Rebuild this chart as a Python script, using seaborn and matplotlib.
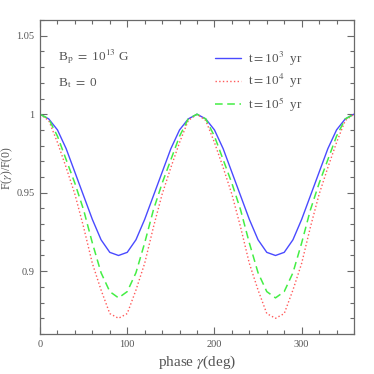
import numpy as np
import pandas as pd
import matplotlib
matplotlib.use("Agg")
import matplotlib.pyplot as plt
import seaborn as sns
from matplotlib.ticker import MultipleLocator, FixedLocator, FixedFormatter

# ---------------- data ----------------
phase = [0, 10, 20, 30, 40, 50, 60, 70, 80, 90, 100, 110, 120, 130, 140, 150, 160, 170, 180,
         190, 200, 210, 220, 230, 240, 250, 260, 270, 280, 290, 300, 310, 320, 330, 340, 350, 360]

f_1e3 = [1.000, 0.997, 0.990, 0.978, 0.963, 0.948, 0.933, 0.920, 0.912, 0.910,
         0.912, 0.920, 0.933, 0.948, 0.963, 0.978, 0.990, 0.997, 1.000,
         0.997, 0.990, 0.978, 0.963, 0.948, 0.933, 0.920, 0.912, 0.910,
         0.912, 0.920, 0.933, 0.948, 0.963, 0.978, 0.990, 0.997, 1.000]

f_1e4 = [1.000, 0.996, 0.982, 0.966, 0.949, 0.928, 0.905, 0.888, 0.873, 0.870,
         0.873, 0.888, 0.905, 0.928, 0.949, 0.966, 0.982, 0.996, 1.000,
         0.996, 0.982, 0.966, 0.949, 0.928, 0.905, 0.888, 0.873, 0.870,
         0.873, 0.888, 0.905, 0.928, 0.949, 0.966, 0.982, 0.996, 1.000]

f_1e5 = [1.000, 0.997, 0.986, 0.971, 0.956, 0.939, 0.918, 0.899, 0.887, 0.883,
         0.887, 0.899, 0.918, 0.939, 0.956, 0.971, 0.986, 0.997, 1.000,
         0.997, 0.986, 0.971, 0.956, 0.939, 0.918, 0.899, 0.887, 0.883,
         0.887, 0.899, 0.918, 0.939, 0.956, 0.971, 0.986, 0.997, 1.000]

series_labels = [r"t$=$10$^3$  yr", r"t$=$10$^4$  yr", r"t$=$10$^5$  yr"]

x_ticks = [0, 100, 200, 300]
x_ticklabels = ["0", "100", "200", "300"]
y_ticks = [0.9, 0.95, 1.0, 1.05]
y_ticklabels = ["0.9", "0.95", "1", "1.05"]

# ---------------- style ----------------
sns.set_style("ticks")
plt.rcParams["font.family"] = ["Liberation Serif", "DejaVu Serif"]
plt.rcParams["mathtext.fontset"] = "stix"

axis_grey = "#6a6a6a"
text_grey = "#555555"

fig = plt.figure(figsize=(3.74, 3.74), dpi=100)
ax = fig.add_axes([0.107, 0.107, 0.8395, 0.8395])

colors = ["#4a4aff", "#ff5a5a", "#44ee44"]
styles = ["-", ":", (0, (5, 3))]
widths = [1.0, 1.0, 1.1]

for vals, lab, c, ls, lw in zip([f_1e3, f_1e4, f_1e5], series_labels, colors, styles, widths):
    df = pd.DataFrame({"phase": phase, "F": vals})
    sns.lineplot(data=df, x="phase", y="F", ax=ax, color=c, linestyle=ls,
                 linewidth=lw, label=lab, estimator=None, sort=False)

ax.set_xlim(0, 360)
ax.set_ylim(0.86, 1.06)

ax.xaxis.set_major_locator(FixedLocator(x_ticks))
ax.xaxis.set_major_formatter(FixedFormatter(x_ticklabels))
ax.xaxis.set_minor_locator(MultipleLocator(20))
ax.yaxis.set_major_locator(FixedLocator(y_ticks))
ax.yaxis.set_major_formatter(FixedFormatter(y_ticklabels))
ax.yaxis.set_minor_locator(MultipleLocator(0.01))

ax.tick_params(which="both", direction="in", top=True, right=True,
               color=axis_grey, labelcolor=text_grey, labelsize=7.5, pad=4)
ax.tick_params(which="major", length=5, width=0.8)
ax.tick_params(which="minor", length=3, width=0.8)
for sp in ax.spines.values():
    sp.set_color(axis_grey)
    sp.set_linewidth(0.9)

ax.set_xlabel(r"phase $\gamma$(deg)", fontsize=11, color=text_grey, labelpad=4)
ax.set_ylabel(r"F($\gamma$)/F(0)", fontsize=8.5, color=text_grey)
ax.yaxis.set_label_coords(-0.08, 0.53)

ax.text(0.056, 0.885, r"B$_\mathrm{p}$ $=$ 10$^{13}$ G", transform=ax.transAxes,
        fontsize=9.5, color=text_grey, va="center")
ax.text(0.056, 0.80, r"B$_\mathrm{t}$ $=$ 0", transform=ax.transAxes,
        fontsize=9.5, color=text_grey, va="center")

leg = ax.legend(loc="upper left", bbox_to_anchor=(0.557, 0.905), frameon=False,
                fontsize=9.5, handlelength=1.95, handletextpad=0.55, labelspacing=0.33,
                borderpad=0, borderaxespad=0)
for t in leg.get_texts():
    t.set_color(text_grey)

fig.savefig("out.png", dpi=100)
